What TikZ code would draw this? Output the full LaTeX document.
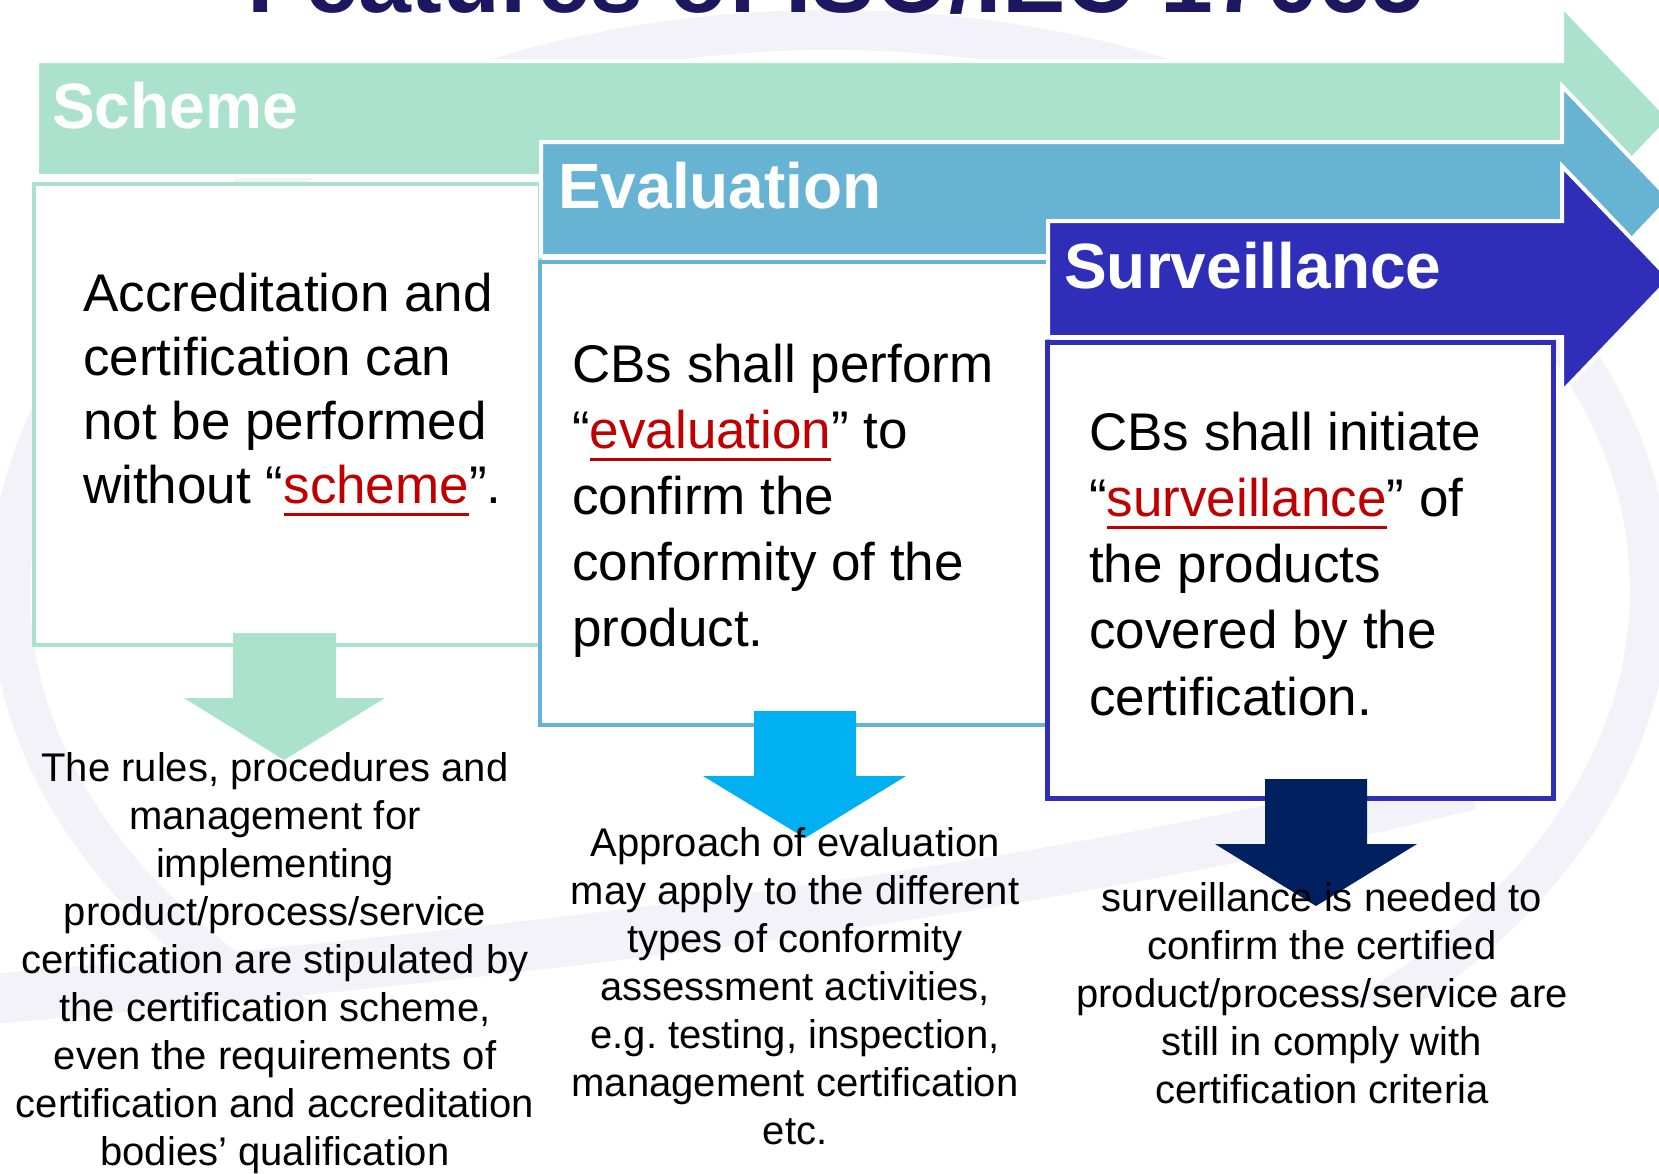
\documentclass[tikz,border=0pt]{standalone}
\usepackage{fontspec}
\setmainfont{Liberation Sans}
\frenchspacing
\definecolor{schemeG}{HTML}{ABE2CB}
\definecolor{evalB}{HTML}{66B3D4}
\definecolor{survB}{HTML}{2E2EB8}
\definecolor{arrBlue}{HTML}{00B0F0}
\definecolor{arrNavy}{HTML}{002060}
\definecolor{ulred}{HTML}{C00000}
\definecolor{titleC}{HTML}{1B1860}
\definecolor{bgl}{HTML}{F2F2F8}
\newcommand\redword[1]{\setbox0\hbox{#1}\rlap{\color{ulred}\rule[-12.5pt]{\wd0}{3pt}}\textcolor{ulred}{#1}}
\begin{document}
\begin{tikzpicture}[x=1pt,y=-1pt,
  band/.style={draw=white, line width=4pt, line join=miter},
  box/.style={fill=white, line width=3.5pt},
  bigtxt/.style={font=\fontsize{53}{64}\selectfont, anchor=base west, inner sep=0pt},
  smalltxt/.style={font=\fontsize{40}{48}\selectfont, anchor=base, inner sep=0pt},
  bandlabel/.style={font=\fontsize{64}{70}\selectfont\bfseries, text=white, anchor=base west, inner sep=0pt}]
\clip (0,0) rectangle (1659,1173);
\fill[white] (0,0) rectangle (1659,1173);
% faint background swooshes
\begin{scope}
  \clip (0,0) rectangle (1659,1000);
  \draw[bgl, line width=40pt] (830,590) ellipse [x radius=820pt, y radius=560pt];
\end{scope}
\draw[bgl, line width=50pt] (-20,1000) .. controls (500,955) and (1000,900) .. (1470,785);
% title (cut off at top, as in the reference)
\node[font=\fontsize{95}{100}\selectfont\bfseries, text=titleC, anchor=base west, inner sep=0pt] (title) at (247,12) {Features of ISO/IEC 17065};
% scheme band and box
\path[band, fill=schemeG] (37,61) -- (1562,61) -- (1562,6) -- (1670,119) -- (1562,232) -- (1562,176) -- (37,176) -- cycle;
\draw[box, draw=schemeG] (34,184) rectangle (540,645);
% evaluation band and box
\path[band, fill=evalB] (541,142) -- (1562,142) -- (1562,86) -- (1670,199) -- (1562,312) -- (1562,256) -- (541,256) -- cycle;
\draw[box, draw=evalB] (540,262) rectangle (1048,725);
% surveillance band and box
\path[band, fill=survB] (1048,221) -- (1562,221) -- (1562,166) -- (1670,279) -- (1562,392) -- (1562,337) -- (1048,337) -- cycle;
\draw[box, draw=survB, line width=5pt] (1047,342) rectangle (1553,798);
% band labels
\node[bandlabel] (lscheme) at (52,128) {Scheme};
\node[bandlabel] (leval) at (558,208) {Evaluation};
\node[bandlabel] (lsurv) at (1064,288) {Surveillance};
% box texts
\node[bigtxt] (s1) at (83,311) {Accreditation and};
\node[bigtxt] (s2) at (83,375) {certification can};
\node[bigtxt] (s3) at (83,439) {not be performed};
\node[bigtxt] (s4) at (83,503) {without “\redword{scheme}”.};
\node[bigtxt] (e1) at (572,382) {CBs shall perform};
\node[bigtxt] (e2) at (572,448) {“\redword{evaluation}” to};
\node[bigtxt] (e3) at (572,514) {confirm the};
\node[bigtxt] (e4) at (572,580) {conformity of the};
\node[bigtxt] (e5) at (572,646) {product.};
\node[bigtxt] (v1) at (1089,450) {CBs shall initiate};
\node[bigtxt] (v2) at (1089,516) {“\redword{surveillance}” of};
\node[bigtxt] (v3) at (1089,582) {the products};
\node[bigtxt] (v4) at (1089,648) {covered by the};
\node[bigtxt] (v5) at (1089,715) {certification.};
% down block arrows
\fill[schemeG] (233,633) -- (336,633) -- (336,698) -- (385,698) -- (284,760) -- (184,698) -- (233,698) -- cycle;
\fill[arrBlue] (754,711) -- (856,711) -- (856,776) -- (906,776) -- (805,838) -- (703,776) -- (754,776) -- cycle;
\fill[arrNavy] (1265,779) -- (1367,779) -- (1367,844) -- (1417,844) -- (1316,906) -- (1215,844) -- (1265,844) -- cycle;
% bottom texts
\foreach \t [count=\i from 0] in {{The rules, procedures and},{management for},{implementing},{product/process/service},{certification are stipulated by},{the certification scheme,},{even the requirements of},{certification and accreditation},{bodies’ qualification}}
  \node[smalltxt] (a\i) at (275,{781+48*\i}) {\t};
\foreach \t [count=\i from 0] in {{Approach of evaluation},{may apply to the different},{types of conformity},{assessment activities,},{e.g. testing, inspection,},{management certification},{etc.}}
  \node[smalltxt] (b\i) at (795,{856+48*\i}) {\t};
\foreach \t [count=\i from 0] in {{surveillance is needed to},{confirm the certified},{product/process/service are},{still in comply with},{certification criteria}}
  \node[smalltxt] (c\i) at (1322,{911+48*\i}) {\t};
\end{tikzpicture}
\end{document}
